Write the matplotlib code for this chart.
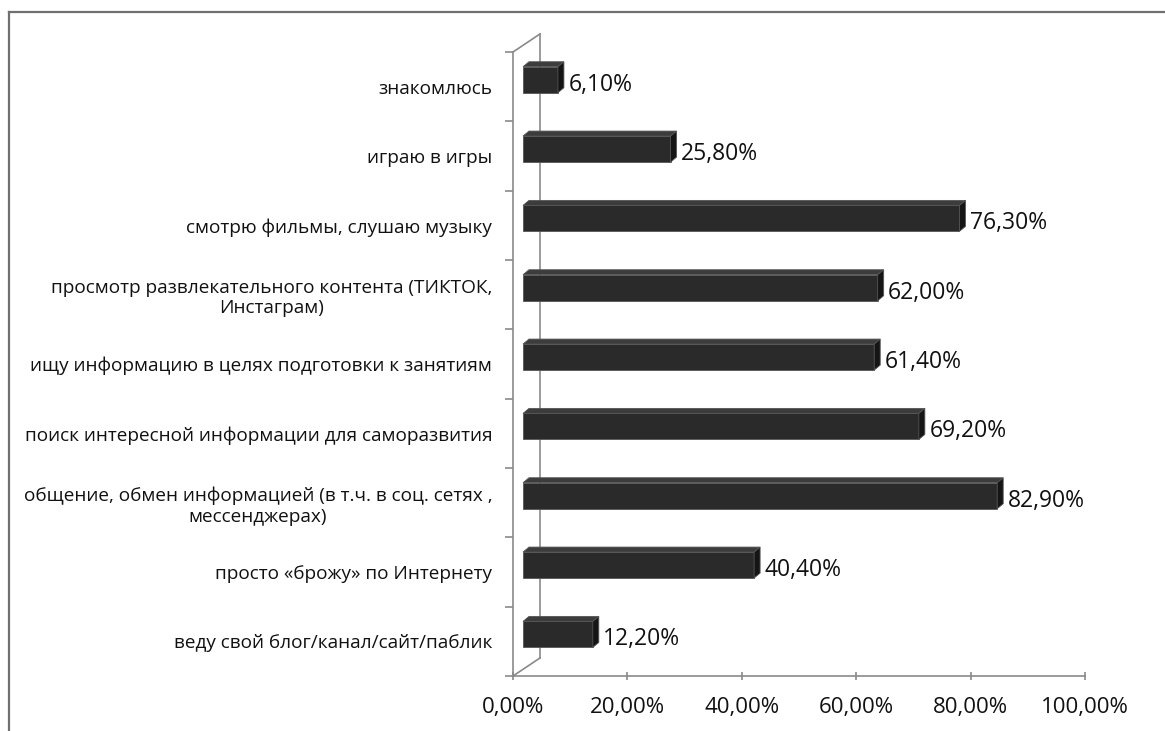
import numpy as np
import matplotlib
matplotlib.use("Agg")
import matplotlib.pyplot as plt
from matplotlib.patches import Polygon
from matplotlib.lines import Line2D

plt.rcParams['font.family'] = ['Open Sans', 'DejaVu Sans']

# данные (сверху вниз)
categories = [
    "знакомлюсь",
    "играю в игры",
    "смотрю фильмы, слушаю музыку",
    "просмотр развлекательного контента (ТИКТОК,\nИнстаграм)",
    "ищу информацию в целях подготовки к занятиям",
    "поиск интересной информации для саморазвития",
    "общение, обмен информацией (в т.ч. в соц. сетях ,\nмессенджерах)",
    "просто «брожу» по Интернету",
    "веду свой блог/канал/сайт/паблик",
]
values = [6.1, 25.8, 76.3, 62.0, 61.4, 69.2, 82.9, 40.4, 12.2]
xticks = [0, 20, 40, 60, 80, 100]

W, H = 1165, 731
fig = plt.figure(figsize=(W / 100, H / 100), dpi=100)
fig.patch.set_facecolor('white')
ax = fig.add_axes([513 / W, 55 / H, 572 / W, 624 / H])

n = len(values)
ypos = np.arange(n)[::-1]

# 3D-эффект
x0 = 1.75      # смещение начала столбика
dx = 1.05      # глубина по x (в %)
dy = 0.072     # глубина по y (в категориях)
h = 0.375
yshift = 0.1
front_c = '#2a2a2a'
top_c = '#3c3c3c'
side_c = '#151515'
wall_c = '#8a8a8a'
txt_c = '#111111'

# задняя стенка
wx, wy = 4.72, 0.26
ax.plot([wx, wx], [-0.5 + wy, n - 0.5 + wy], color=wall_c, lw=1.2, zorder=1, clip_on=False)
ax.plot([0, wx], [-0.5, -0.5 + wy], color=wall_c, lw=1.2, zorder=1, clip_on=False)
ax.plot([0, wx], [n - 0.5, n - 0.5 + wy], color=wall_c, lw=1.2, zorder=1, clip_on=False)

ax.barh(ypos + yshift, values, left=x0, height=h, color=front_c,
        edgecolor='#555555', linewidth=0.6, zorder=3)
for y, v in zip(ypos, values):
    yb = y + yshift - h / 2
    yt = y + yshift + h / 2
    x1 = x0 + v
    ax.add_patch(Polygon([(x0, yt), (x1, yt), (x1 + dx, yt + dy), (x0 + dx, yt + dy)],
                         closed=True, facecolor=top_c, edgecolor='#555555', lw=0.6, zorder=3))
    ax.add_patch(Polygon([(x1, yb), (x1, yt), (x1 + dx, yt + dy), (x1 + dx, yb + dy)],
                         closed=True, facecolor=side_c, edgecolor='#555555', lw=0.6, zorder=3))
    ax.text(x1 + dx + 0.8, y + yshift - 0.03, ("%.2f%%" % v).replace('.', ','),
            va='center_baseline', ha='left', fontsize=16.5, color=txt_c, zorder=4)

ax.set_xlim(0, 100)
ax.set_ylim(-0.5, n - 0.5)

ax.set_xticks(xticks)
ax.set_xticklabels([("%.2f%%" % t).replace('.', ',') for t in xticks], fontsize=16, color=txt_c)
ax.tick_params(axis='x', direction='inout', length=6, width=1.2, color=wall_c, pad=12)

ax.set_yticks(np.arange(n + 1) - 0.5)
ax.set_yticklabels([])
ax.tick_params(axis='y', which='major', direction='out', length=6, width=1.2, color=wall_c)
ax.set_yticks(ypos, minor=True)
ax.set_yticklabels(categories, minor=True, fontsize=13.7, color=txt_c, multialignment='center')
ax.tick_params(axis='y', which='minor', length=0, pad=15)

for s in ['top', 'right']:
    ax.spines[s].set_visible(False)
for s in ['left', 'bottom']:
    ax.spines[s].set_color(wall_c)
    ax.spines[s].set_linewidth(1.2)

# рамка диаграммы
fig.add_artist(Line2D([9 / W, 9 / W], [0, (H - 12) / H], color='#707070', lw=1.6))
fig.add_artist(Line2D([9 / W, 1], [(H - 12) / H, (H - 12) / H], color='#707070', lw=1.6))

fig.savefig('out.png', dpi=100)
